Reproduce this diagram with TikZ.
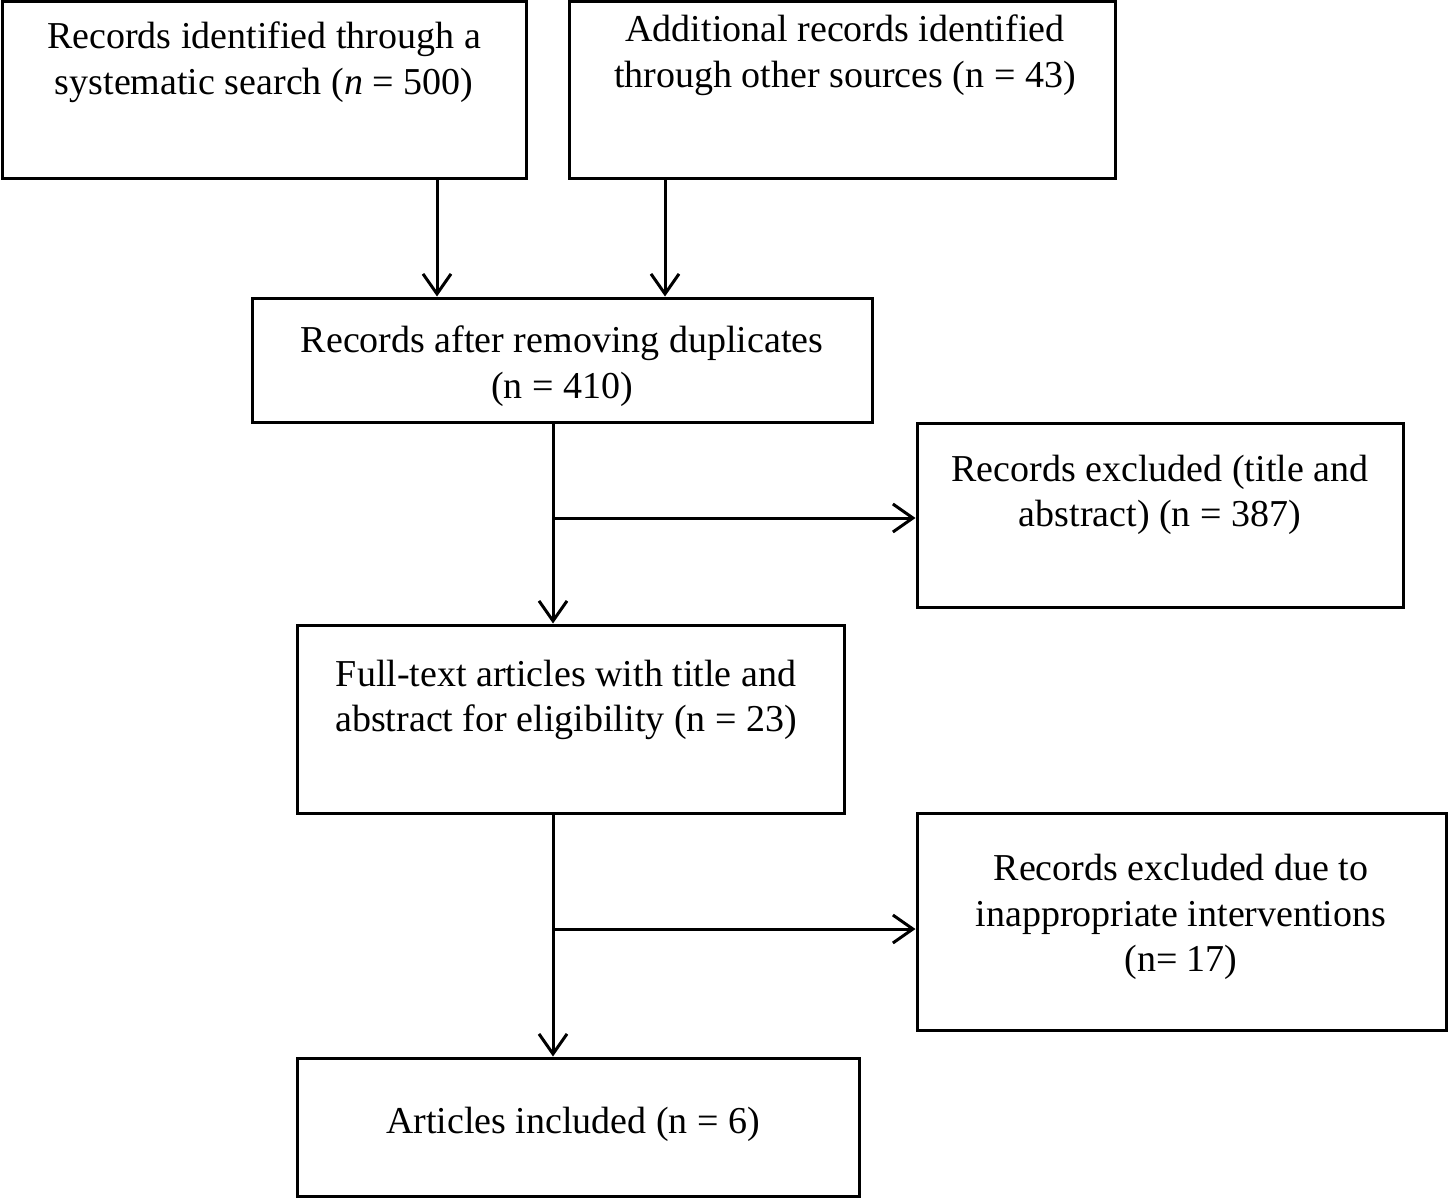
\documentclass[tikz,border=0pt]{standalone}
\usepackage{fontspec}
\setmainfont{Liberation Serif}
\usetikzlibrary{arrows.meta}
\begin{document}
\begin{tikzpicture}[x=1pt,y=-1pt,
  box/.style={draw=black,line width=3pt,inner sep=0pt,fill=none},
  txt/.style={align=center,inner sep=0pt,font=\fontsize{38}{45.5}\selectfont},
  arr/.style={line width=3pt,-{Straight Barb[length=20pt,width=28pt,line width=3pt]}},
  ln/.style={line width=3pt}]
\useasboundingbox (0,0) rectangle (1448,1199);
\fill[white] (0,0) rectangle (1448,1199);
% boxes
\node[box,minimum width=524,minimum height=176] (b1) at (264,90) {};
\node[box,minimum width=546,minimum height=176] (b2) at (842,90) {};
\node[box,minimum width=620,minimum height=124] (b3) at (562,360) {};
\node[box,minimum width=486,minimum height=184] (b4) at (1160,515) {};
\node[box,minimum width=547,minimum height=188] (b5) at (570.5,719) {};
\node[box,minimum width=529,minimum height=217] (b6) at (1181.5,921.5) {};
\node[box,minimum width=562,minimum height=138] (b7) at (578,1127) {};
% texts
\node[txt] (t1) at (264,62) {Records identified through a\\systematic search (\textit{n} = 500)};
\node[txt] (t2) at (845,55) {Additional records identified\\through other sources (n = 43)};
\node[txt] (t3) at (562,366) {Records after removing duplicates\\(n = 410)};
\node[txt] (t4) at (1160,495) {Records excluded (title and\\abstract) (n = 387)};
\node[txt] (t5) at (566,700) {Full-text articles with title and\\abstract for eligibility (n = 23)};
\node[txt] (t6) at (1181,917) {Records excluded due to\\inappropriate interventions\\(n= 17)};
\node[txt] (t7) at (573,1124) {Articles included (n = 6)};
% connectors
\coordinate (x1) at (437,0);
\coordinate (x2) at (665,0);
\coordinate (x3) at (553,0);
\coordinate (j1) at (553,518);
\coordinate (j2) at (553,929);
\draw[arr] (b1.south -| x1) -- (b3.north -| x1);
\draw[arr] (b2.south -| x2) -- (b3.north -| x2);
\draw[arr] (b3.south -| x3) -- (b5.north -| x3);
\draw[arr] (j1) -- (b4.west |- j1);
\draw[arr] (b5.south -| x3) -- (b7.north -| x3);
\draw[arr] (j2) -- (b6.west |- j2);
\end{tikzpicture}
\end{document}
